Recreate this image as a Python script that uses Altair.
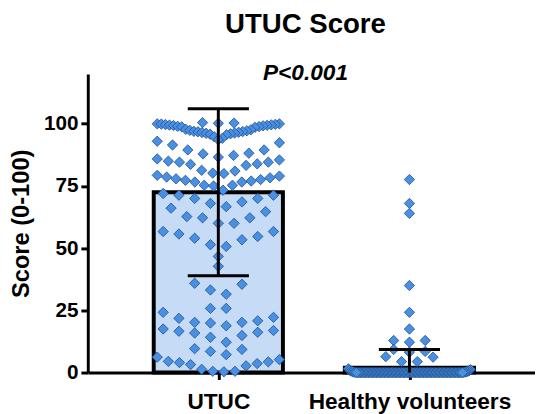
import altair as alt
import pandas as pd

# ---------------- data ----------------
categories = ["UTUC", "Healthy volunteers"]
means = [72.5, 1.9]
sds = [33.6, 7.4]

utuc_scores = [
    100.5, 100.3, 100.2, 100.0, 100.0, 99.9, 99.8, 99.7, 99.6, 99.5, 99.4, 99.3,
    99.2, 99.0, 98.9, 98.8, 98.6,
    97.8, 97.6, 97.4, 97.2, 97.0, 96.9, 96.8, 96.6, 96.5, 96.3, 96.2, 96.0,
    95.8, 95.6,
    94.8, 94.2, 93.6, 93.0, 92.4, 91.5,
    89.5, 89.5, 88.2, 87.9, 87.3, 86.6, 85.9, 85.5, 85.0, 84.6, 84.6, 83.9,
    83.7, 83.3,
    81.3, 81.0, 80.2, 80.0, 79.3, 79.0, 78.6, 78.3, 77.9, 77.6, 77.3, 77.0,
    76.6, 76.6,
    75.3, 75.3, 75.0,
    73.3, 72.0, 71.3, 71.3, 70.0, 70.0, 68.6, 68.0,
    66.7, 66.1, 64.7, 62.7, 62.2, 62.2, 60.0, 60.0,
    56.7, 56.7, 55.7, 54.7, 54.0, 53.4, 51.4, 50.7, 46.7, 42.7,
    35.9, 35.5, 33.2, 31.5,
    25.8, 24.2, 25.8,
    22.2, 21.8, 20.8, 20.2, 20.2, 19.9, 18.8, 17.5, 16.9, 16.6, 16.2, 15.9,
    14.9, 14.2, 12.2, 9.6, 9.3, 8.5,
    7.2, 6.2, 5.2, 4.5, 4.3, 4.0, 3.6, 3.2, 2.7, 1.3, 0.5, 0.5, 0.3,
]

healthy_scores = [
    77.6, 68.0, 64.0, 35.0, 24.2, 17.5, 12.9, 12.9, 12.2, 9.3, 8.5, 8.2,
    6.4, 6.2, 4.4, 4.4,
    1.5, 1.2, 1.0, 0.8, 0.6, 0.5, 0.4, 0.3, 0.2, 0.2, 0.1, 0.1,
    0, 0, 0, 0, 0, 0, 0, 0, 0, 0, 0, 0, 0, 0, 0, 0, 0, 0, 0, 0,
    0, 0, 0, 0, 0, 0, 0, 0, 0, 0, 0, 0, 0, 0, 0, 0, 0, 0, 0, 0,
    0, 0, 0, 0, 0, 0, 0, 0, 0, 0, 0, 0, 0, 0, 0, 0, 0, 0, 0, 0,
    0, 0, 0, 0, 0, 0, 0, 0, 0, 0, 0, 0, 0, 0, 0, 0, 0, 0, 0, 0,
]

# ---------------- layout ----------------
PLOT_W = 454
PLOT_H = 303
Y_MAX = 120
X_MIN, X_MAX = -0.683, 1.657
BAR_HALF = 0.338      # half bar width in category units
CAP_HALF = 0.16       # half error-cap width in category units
ROW_SPAN = [6.5, 2.5]  # row height (score units) used to group points per category

px_x = PLOT_W / (X_MAX - X_MIN)


def row_scatter(values, span, gap=2.5, spacing=16.0, half=62.0):
    """Scatter-dot layout: values are grouped into rows, and each row is spread
    sideways with the lowest value in the middle (offsets in pixels)."""
    order = sorted(range(len(values)), key=lambda i: values[i])
    groups, cur = [], []
    for i in order:
        v = values[i]
        if cur and (v - values[cur[0]] >= span or v - values[cur[-1]] > gap):
            groups.append(cur)
            cur = []
        cur.append(i)
    if cur:
        groups.append(cur)

    offs = [0.0] * len(values)
    for g in groups:
        n = len(g)
        s = spacing if n <= 1 else min(spacing, 2 * half / (n - 1))
        for rank, i in enumerate(g):
            if n % 2 == 1:
                k = (rank + 1) // 2
                sign = 1 if rank % 2 == 1 else -1
                offs[i] = sign * k * s
            else:
                k = rank // 2 + 0.5
                sign = 1 if rank % 2 == 0 else -1
                offs[i] = sign * k * s
    return offs


rows = []
for gi, vals in enumerate([utuc_scores, healthy_scores]):
    for v, o in zip(vals, row_scatter(vals, ROW_SPAN[gi])):
        rows.append({"group": categories[gi], "score": v, "x": gi + o / px_x})
points = pd.DataFrame(rows)

bars = pd.DataFrame({
    "group": categories,
    "x1": [i - BAR_HALF for i in range(len(categories))],
    "x2": [i + BAR_HALF for i in range(len(categories))],
    "base": [0] * len(categories),
    "mean": means,
})

err = pd.DataFrame({
    "group": categories,
    "xc": list(range(len(categories))),
    "lo": [max(m - s, 0) for m, s in zip(means, sds)],
    "hi": [m + s for m, s in zip(means, sds)],
})

caps = pd.DataFrame(
    [{"xa": i - CAP_HALF, "xb": i + CAP_HALF, "y": m + s} for i, (m, s) in enumerate(zip(means, sds))]
    + [{"xa": i - CAP_HALF, "xb": i + CAP_HALF, "y": m - s} for i, (m, s) in enumerate(zip(means, sds)) if m - s > 0]
)

label_expr = " : ".join(
    [f"datum.value == {i} ? '{c}'" for i, c in enumerate(categories)] + ["''"]
)

x_scale = alt.Scale(domain=[X_MIN, X_MAX], nice=False, zero=False)
y_scale = alt.Scale(domain=[0, Y_MAX], nice=False)

x_axis = alt.Axis(
    values=list(range(len(categories))), labelExpr=label_expr, title=None,
    labelFontSize=23, labelPadding=12, tickSize=7, labelLimit=0,
    labelOverlap=False,
)
y_axis = alt.Axis(
    values=[0, 25, 50, 75, 100], title="Score (0-100)", labelFontSize=21,
    titleFontSize=24, tickSize=7, labelPadding=3,
    titleX=-67, titleBaseline="middle",
)

bar_layer = alt.Chart(bars).mark_rect(
    fill="#c6dbf5", stroke="black", strokeWidth=4
).encode(
    x=alt.X("x1:Q", scale=x_scale, axis=x_axis),
    x2="x2:Q",
    y=alt.Y("base:Q", scale=y_scale, axis=y_axis),
    y2="mean:Q",
)

point_layer = alt.Chart(points).mark_point(
    shape="diamond", filled=True, size=110, fill="#4a90e2",
    stroke="#1f4e8c", strokeWidth=0.8, opacity=1,
).encode(
    x=alt.X("x:Q", scale=x_scale),
    y=alt.Y("score:Q", scale=y_scale),
)

err_layer = alt.Chart(err).mark_rule(color="black", strokeWidth=3).encode(
    x=alt.X("xc:Q", scale=x_scale),
    y=alt.Y("lo:Q", scale=y_scale),
    y2="hi:Q",
)

cap_layer = alt.Chart(caps).mark_rule(color="black", strokeWidth=3).encode(
    x=alt.X("xa:Q", scale=x_scale),
    x2="xb:Q",
    y=alt.Y("y:Q", scale=y_scale),
)

chart = alt.layer(bar_layer, point_layer, err_layer, cap_layer).properties(
    width=PLOT_W,
    height=PLOT_H,
    padding={"left": 81, "top": 64, "right": 0, "bottom": 40},
    autosize=alt.AutoSizeParams(type="none"),
    title=alt.TitleParams(
        "UTUC Score", subtitle="P<0.001", anchor="middle", dx=-6,
        fontSize=28, font="Liberation Sans", fontWeight="bold", color="black",
        subtitleFontSize=23, subtitleFont="Liberation Sans",
        subtitleFontStyle="italic", subtitleFontWeight="bold",
        subtitleColor="black", subtitlePadding=24, offset=-11,
    ),
).configure_view(stroke=None).configure_axis(
    grid=False, domainColor="black", domainWidth=3, tickColor="black",
    tickWidth=3, labelColor="black", labelFont="Liberation Sans",
    labelFontWeight="bold", titleFont="Liberation Sans", titleFontWeight="bold",
    titleColor="black",
)

chart.save("out.html", embed_options={"renderer": "svg", "actions": False})
